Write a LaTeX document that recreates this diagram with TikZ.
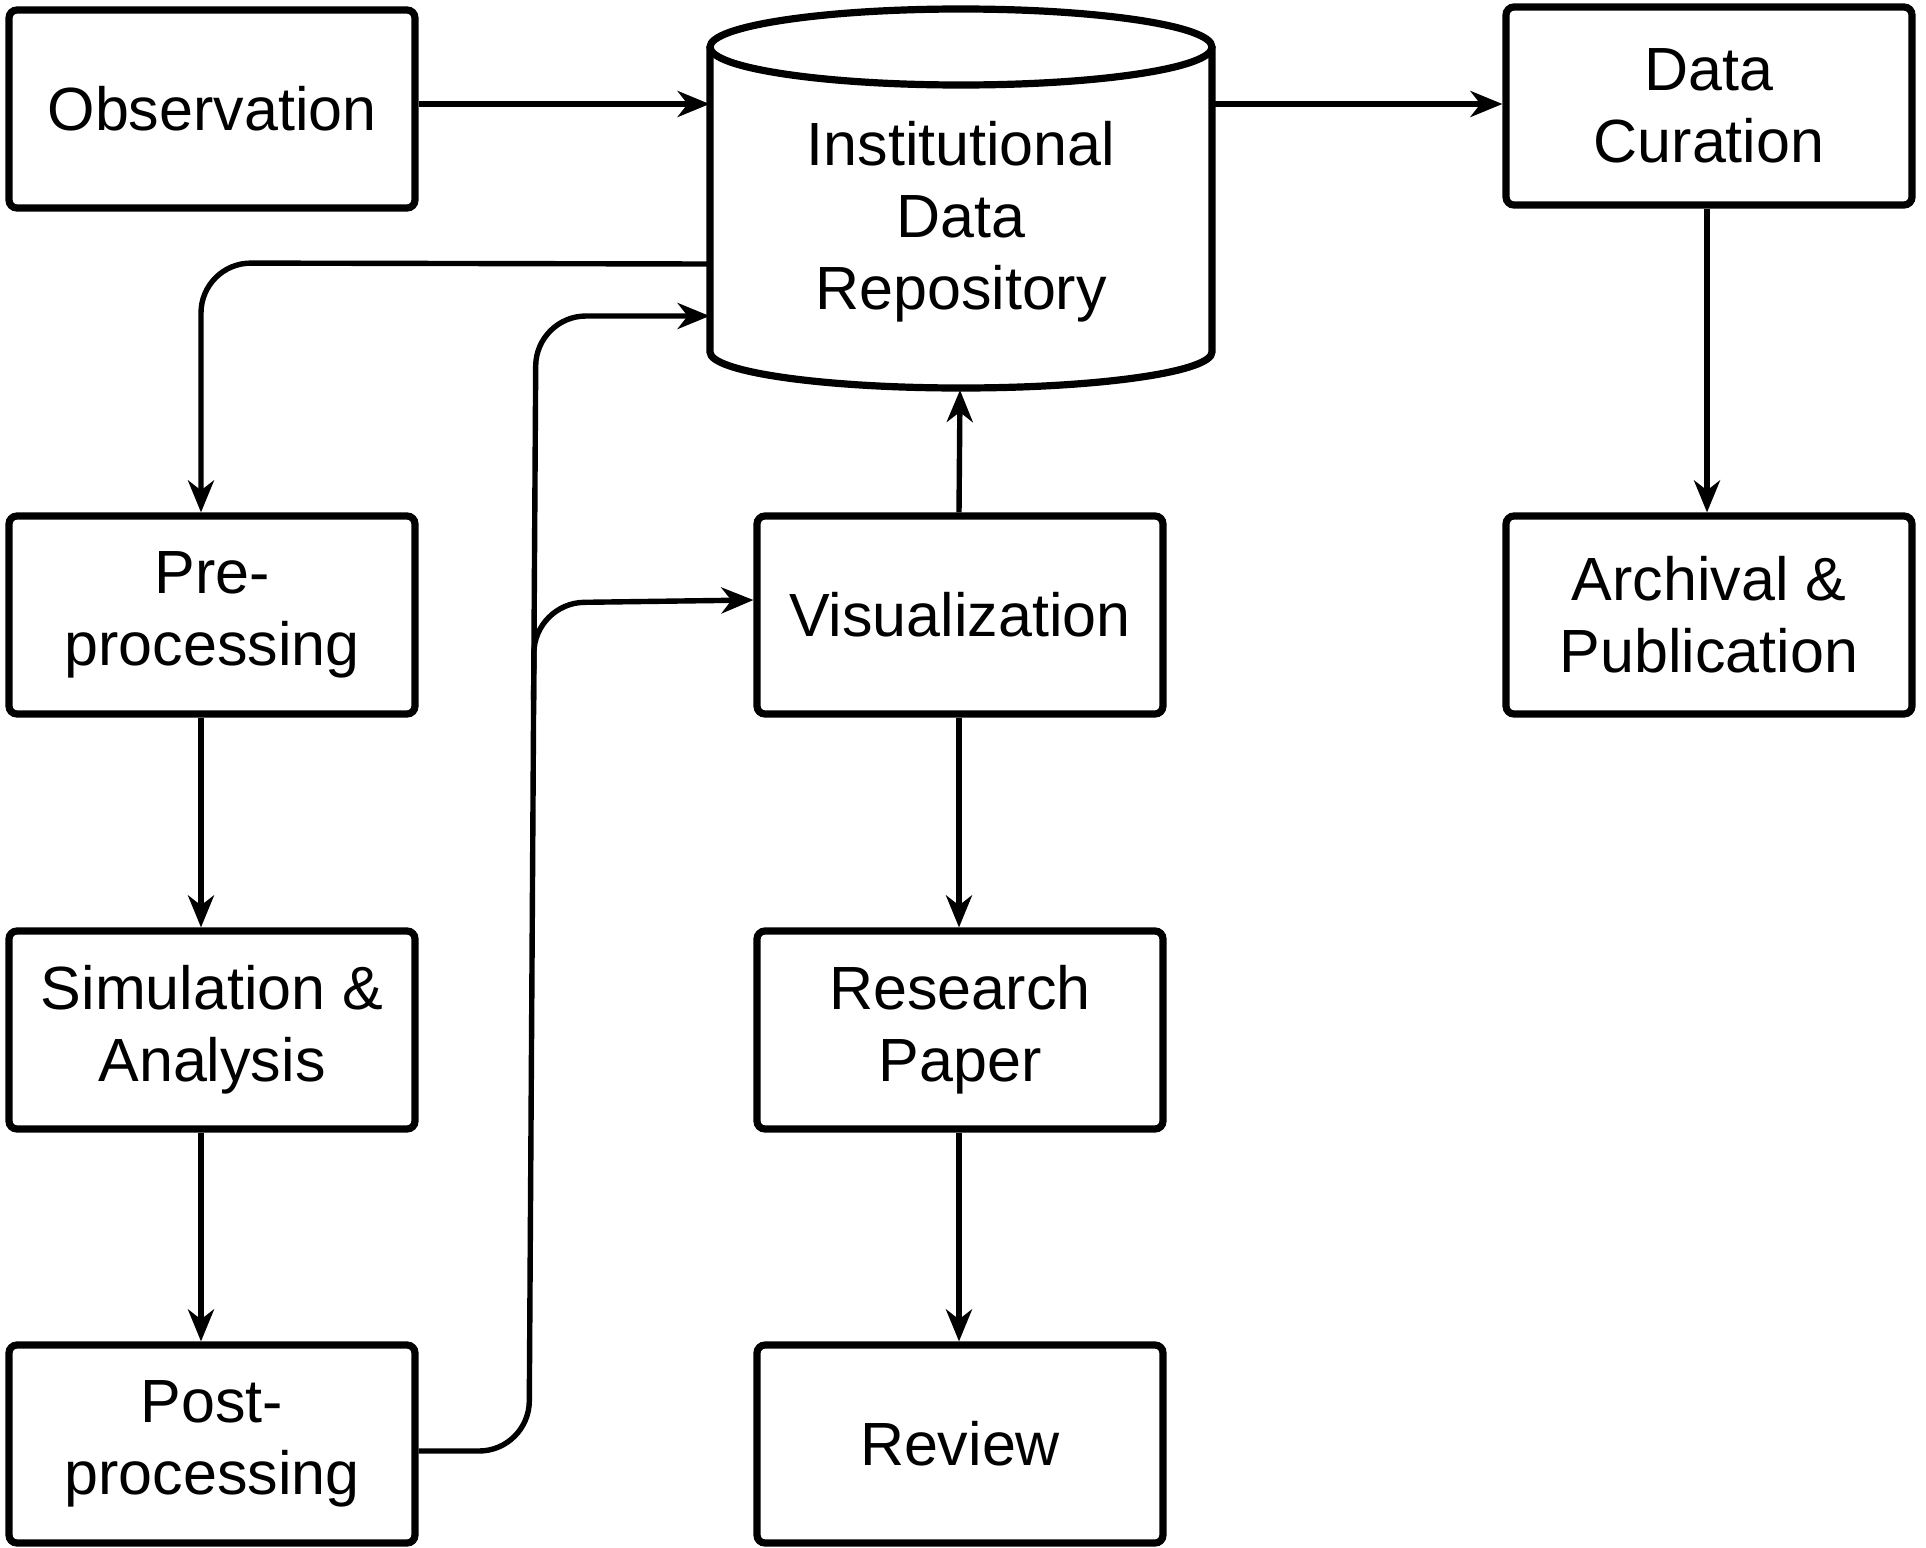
\documentclass[tikz,border=0pt]{standalone}
\usepackage{fontspec}
\setmainfont{Liberation Sans}
\usetikzlibrary{arrows.meta}

\begin{document}
\begin{tikzpicture}[x=0.5pt,y=0.5pt,
  stepbox/.style={draw, line width=3.6pt, rounded corners=4pt, fill=white,
    minimum width=203pt, minimum height=99pt, inner sep=0pt, align=center,
    font=\fontsize{30.5pt}{36pt}\selectfont},
  cyl/.style={line width=3.6pt},
  arr/.style={line width=2.7pt, -{Stealth[length=16pt,width=13pt,inset=5pt]}},
]
\useasboundingbox (0,0) rectangle (1926,-1547);

% repository cylinder
\fill[white] (710,-47) -- (710,-352) arc[start angle=180,end angle=360,x radius=125.5pt,y radius=18pt] -- (1212,-47) -- cycle;
\draw[cyl] (710,-47) -- (710,-352) arc[start angle=180,end angle=360,x radius=125.5pt,y radius=18pt] -- (1212,-47);
\draw[cyl, fill=white] (961,-47) ellipse[x radius=125.5pt, y radius=19pt];
\node[minimum width=251pt, minimum height=150pt, inner sep=0pt, align=center,
      font=\fontsize{30.5pt}{36pt}\selectfont] (repo) at (961,-222) {Institutional\\Data\\Repository};
\coordinate (repobot) at (960,-390);

% process boxes
\node[stepbox] (obs)  at (212,-109)  {Observation};
\node[stepbox] (dc)   at (1709,-106) {Data\\Curation};
\node[stepbox] (pre)  at (212,-615)  {Pre-\\processing};
\node[stepbox] (sim)  at (212,-1030) {Simulation \&\\Analysis};
\node[stepbox] (post) at (212,-1444) {Post-\\processing};
\node[stepbox] (vis)  at (960,-615)  {Visualization};
\node[stepbox] (rp)   at (960,-1030) {Research\\Paper};
\node[stepbox] (rev)  at (960,-1444) {Review};
\node[stepbox] (arch) at (1709,-615) {Archival \&\\Publication};

% flows
\draw[arr] (obs.east |- 0,-104) -- (repo.west |- 0,-104);
\draw[arr] (repo.east |- 0,-104) -- (dc.west |- 0,-104);
\draw[arr] ([xshift=-1pt]dc.south) -- ([xshift=-1pt]arch.north);

\draw[arr, rounded corners=25pt] (repo.west |- 0,-264) -- (201,-263) -- ([xshift=-5.5pt]pre.north);
\draw[arr] ([xshift=-5.5pt]pre.south) -- ([xshift=-5.5pt]sim.north);
\draw[arr] ([xshift=-5.5pt]sim.south) -- ([xshift=-5.5pt]post.north);

\draw[arr, rounded corners=25pt] (post.east |- 0,-1451) -- (529,-1451) -- (536,-316) -- (repo.west |- 0,-316);
\coordinate (br) at (533.6,-700);
\draw[arr, rounded corners=25pt] (br) -- (534.2,-603) -- (vis.west |- 0,-600);

\draw[arr] ([xshift=-0.5pt]vis.north) -- (repobot);
\draw[arr] ([xshift=-0.5pt]vis.south) -- ([xshift=-0.5pt]rp.north);
\draw[arr] ([xshift=-0.5pt]rp.south) -- ([xshift=-0.5pt]rev.north);
\end{tikzpicture}
\end{document}
